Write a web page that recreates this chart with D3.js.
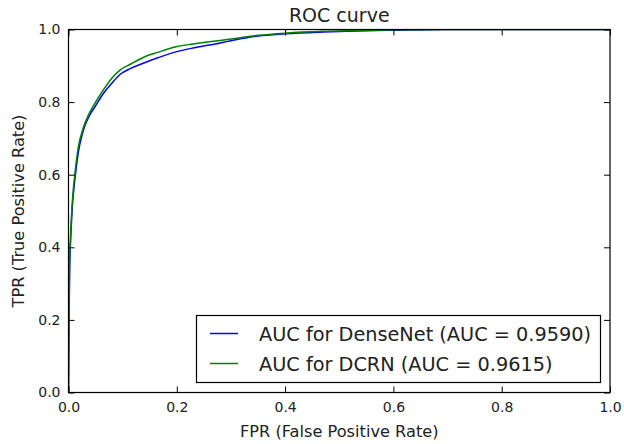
<!DOCTYPE html>
<html>
<head>
<meta charset="utf-8">
<script src="https://cdn.jsdelivr.net/npm/d3@7"></script>
<style>
  html, body { margin: 0; padding: 0; background: #fff; }
  svg { display: block; font-family: "DejaVu Sans", sans-serif; }
</style>
</head>
<body>
<svg id="chart" width="624" height="444"></svg>
<script>
// ---- data ----
const denseFpr = [0, 0.001, 0.002, 0.004, 0.007, 0.012, 0.018, 0.027, 0.037, 0.05, 0.065, 0.08, 0.095, 0.115, 0.138, 0.165, 0.2, 0.23, 0.26, 0.3, 0.35, 0.4, 0.47, 0.53, 0.6, 0.7, 0.8, 0.9, 1];
const denseTpr = [0, 0.2, 0.33, 0.42, 0.51, 0.59, 0.66, 0.72, 0.758, 0.79, 0.825, 0.852, 0.876, 0.893, 0.907, 0.922, 0.939, 0.949, 0.957, 0.969, 0.982, 0.988, 0.993, 0.996, 0.998, 1, 1, 1, 1];
const dcrnFpr = [0, 0.001, 0.002, 0.004, 0.007, 0.012, 0.018, 0.027, 0.037, 0.05, 0.065, 0.08, 0.095, 0.115, 0.138, 0.165, 0.2, 0.23, 0.26, 0.3, 0.35, 0.4, 0.47, 0.53, 0.6, 0.7, 0.8, 0.9, 1];
const dcrnTpr = [0, 0.22, 0.35, 0.44, 0.525, 0.605, 0.675, 0.728, 0.765, 0.8, 0.835, 0.866, 0.888, 0.905, 0.923, 0.937, 0.953, 0.96, 0.966, 0.974, 0.984, 0.99, 0.995, 0.997, 0.999, 1, 1, 1, 1];
const seriesNames = ["AUC for DenseNet (AUC = 0.9590)", "AUC for DCRN (AUC = 0.9615)"];
const seriesColors = ["#0000ff", "#008000"];
const xTicks = [0, 0.2, 0.4, 0.6, 0.8, 1.0];
const yTicks = [0, 0.2, 0.4, 0.6, 0.8, 1.0];
const titleText = "ROC curve";
const xLabel = "FPR (False Positive Rate)";
const yLabel = "TPR (True Positive Rate)";

// ---- layout ----
const L = 68.5, R = 610, T = 29.5, B = 392.5;
const svg = d3.select("#chart");
const x = d3.scaleLinear().domain([0, 1]).range([L, R]);
const y = d3.scaleLinear().domain([0, 1]).range([B, T]);
const tickLen = 6;

// curves (clipped)
svg.append("clipPath").attr("id", "clip").append("rect")
  .attr("x", L).attr("y", T).attr("width", R - L).attr("height", B - T);

const series = [
  { fpr: denseFpr, tpr: denseTpr },
  { fpr: dcrnFpr, tpr: dcrnTpr }
];
const line = d3.line().x(d => x(d[0])).y(d => y(d[1])).curve(d3.curveMonotoneX);
const gCurves = svg.append("g").attr("clip-path", "url(#clip)");
series.forEach((s, i) => {
  gCurves.append("path")
    .datum(s.fpr.map((f, j) => [f, s.tpr[j]]))
    .attr("fill", "none")
    .attr("stroke", seriesColors[i])
    .attr("stroke-width", 1.5)
    .attr("d", line);
});

// axes with inward ticks on all sides
const fmt = d3.format(".1f");
const gx = svg.append("g").attr("transform", `translate(0,${B})`)
  .call(d3.axisBottom(x).tickValues(xTicks).tickFormat(fmt).tickSizeInner(-tickLen).tickSizeOuter(0).tickPadding(10));
const gxt = svg.append("g").attr("transform", `translate(0,${T})`)
  .call(d3.axisTop(x).tickValues(xTicks).tickFormat("").tickSizeInner(-tickLen).tickSizeOuter(0));
const gy = svg.append("g").attr("transform", `translate(${L},0)`)
  .call(d3.axisLeft(y).tickValues(yTicks).tickFormat(fmt).tickSizeInner(-tickLen).tickSizeOuter(0).tickPadding(8));
const gyr = svg.append("g").attr("transform", `translate(${R},0)`)
  .call(d3.axisRight(y).tickValues(yTicks).tickFormat("").tickSizeInner(-tickLen).tickSizeOuter(0));

[gx, gxt, gy, gyr].forEach(g => {
  g.select(".domain").remove();
  g.selectAll(".tick line").attr("stroke", "#000").attr("stroke-width", 1);
  g.selectAll(".tick text").attr("fill", "#222").style("font-size", "14px").style("font-family", "DejaVu Sans");
});

// frame
svg.append("rect").attr("x", L).attr("y", T).attr("width", R - L).attr("height", B - T)
  .attr("fill", "none").attr("stroke", "#000").attr("stroke-width", 1.2);

// title and labels
svg.append("text").attr("x", (L + R) / 2).attr("y", 22).attr("text-anchor", "middle")
  .style("font-size", "19px").attr("fill", "#222").text(titleText);
svg.append("text").attr("x", (L + R) / 2).attr("y", 437).attr("text-anchor", "middle")
  .style("font-size", "16.2px").attr("fill", "#222").text(xLabel);
svg.append("text").attr("transform", `translate(24,${(T + B) / 2}) rotate(-90)`).attr("text-anchor", "middle")
  .style("font-size", "16.2px").attr("fill", "#222").text(yLabel);

// legend
const lg = svg.append("g");
lg.append("rect").attr("x", 196.5).attr("y", 315.5).attr("width", 404).attr("height", 67)
  .attr("fill", "#fff").attr("stroke", "#000").attr("stroke-width", 1.2);
const rowY = [333.5, 363.5];
seriesNames.forEach((name, i) => {
  lg.append("line").attr("x1", 210).attr("x2", 238).attr("y1", rowY[i]).attr("y2", rowY[i])
    .attr("stroke", seriesColors[i]).attr("stroke-width", 1.5);
  lg.append("text").attr("x", 259).attr("y", rowY[i] + 7)
    .style("font-size", "19.3px").attr("fill", "#222").text(name);
});
</script>
</body>
</html>
